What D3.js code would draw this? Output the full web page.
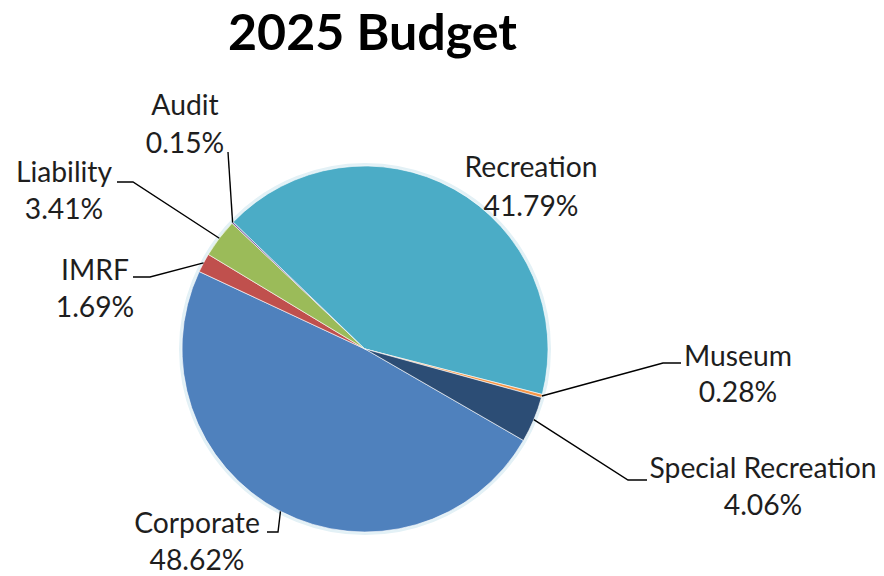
<!DOCTYPE html>
<html>
<head>
<meta charset="utf-8">
<script src="https://cdn.jsdelivr.net/npm/d3@7"></script>
<style>
  html, body { margin: 0; padding: 0; background: #ffffff; }
  svg { display: block; }
</style>
</head>
<body>
<svg id="chart" width="884" height="576"></svg>
<script>
// ---- Data ----
const title = "2025 Budget";
const categories = ["Corporate", "IMRF", "Liability", "Audit", "Recreation", "Museum", "Special Recreation"];
const shares = [48.62, 1.69, 3.41, 0.15, 41.79, 0.28, 4.06];
const percentLabels = ["48.62%", "1.69%", "3.41%", "0.15%", "41.79%", "0.28%", "4.06%"];

// ---- Styles ----
const colors = ["#4F81BD", "#C0504D", "#9BBB59", "#8064A2", "#4BACC6", "#F79646", "#2C4D75"];
const firstSliceAngleDeg = 120;

// ---- Layout (label anchor: centre x, first baseline y, line gap; leader: label-side points) ----
const labelLayout = [
  { x: 197, y: 533, gap: 37, leader: [[267, 532], [278, 532]] },
  { x: 95,  y: 280, gap: 37, leader: [[133, 277], [150, 277]] },
  { x: 64,  y: 182, gap: 37, leader: [[117, 182], [133, 182]] },
  { x: 185, y: 115, gap: 38, leader: [[228, 152]] },
  { x: 531, y: 177, gap: 39, leader: null },
  { x: 738, y: 366, gap: 36, leader: [[681, 363], [663, 363]] },
  { x: 763, y: 478, gap: 37, leader: [[647, 480], [628, 480]] }
];

const cx = 365, cy = 349, radius = 183;
const fontFamily = "Lato, 'Open Sans', 'DejaVu Sans', sans-serif";

const svg = d3.select("#chart");

// Fit font sizes to reference widths
function fitSize(text, weight, targetWidth) {
  const t = svg.append("text").attr("font-family", fontFamily).attr("font-weight", weight)
    .attr("font-size", 100).text(text);
  const w = t.node().getComputedTextLength();
  t.remove();
  return 100 * targetWidth / w;
}
const titleSize = fitSize(title, 700, 289);
const labelSize = fitSize("Recreation", 400, 133);

// Title
svg.append("text")
  .attr("x", 372.5).attr("y", 50)
  .attr("text-anchor", "middle")
  .attr("font-family", fontFamily).attr("font-weight", 700)
  .attr("font-size", titleSize)
  .attr("fill", "#000")
  .text(title);

// Pie
const data = categories.map((c, i) => ({ name: c, value: shares[i], pct: percentLabels[i], color: colors[i], layout: labelLayout[i] }));
const start = firstSliceAngleDeg * Math.PI / 180;
const pie = d3.pie().sort(null).value(d => d.value).startAngle(start).endAngle(start + 2 * Math.PI);
const arc = d3.arc().innerRadius(0).outerRadius(radius);
const arcs = pie(data);

const g = svg.append("g").attr("transform", `translate(${cx},${cy})`);

// soft halo
g.append("circle").attr("r", radius + 1.5).attr("fill", "none")
  .attr("stroke", "#e3f1f6").attr("stroke-width", 3);

g.selectAll("path.slice").data(arcs).join("path")
  .attr("class", "slice")
  .attr("d", arc)
  .attr("fill", d => d.data.color)
  .attr("stroke", "#ffffff")
  .attr("stroke-width", 0.6)
  .attr("stroke-linejoin", "round");

// Leader lines
const line = d3.line();
arcs.forEach(a => {
  const L = a.data.layout;
  if (!L.leader) return;
  const mid = (a.startAngle + a.endAngle) / 2;
  const px = cx + radius * Math.sin(mid);
  const py = cy - radius * Math.cos(mid);
  const pts = L.leader.concat([[px, py]]);
  svg.append("path")
    .attr("d", line(pts))
    .attr("fill", "none")
    .attr("stroke", "#000")
    .attr("stroke-width", 1.4);
});

// Labels
arcs.forEach(a => {
  const L = a.data.layout;
  const t = svg.append("text")
    .attr("text-anchor", "middle")
    .attr("font-family", fontFamily)
    .attr("font-size", labelSize)
    .attr("fill", "#1e1e1e");
  t.append("tspan").attr("x", L.x).attr("y", L.y).text(a.data.name);
  t.append("tspan").attr("x", L.x).attr("y", L.y + L.gap).text(a.data.pct);
});
</script>
</body>
</html>
